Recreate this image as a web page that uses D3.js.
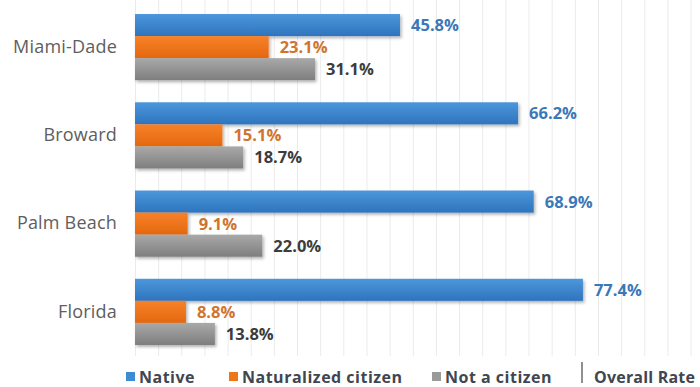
<!DOCTYPE html>
<html>
<head>
<meta charset="utf-8">
<script src="https://cdn.jsdelivr.net/npm/d3@7"></script>
<style>
  html, body { margin: 0; padding: 0; background: #ffffff; }
  svg { display: block; }
</style>
</head>
<body>
<svg id="chart" width="700" height="387"></svg>
<script>
// Share of residents by citizenship status, per area (percent)
const areas = ["Miami-Dade", "Broward", "Palm Beach", "Florida"];
const seriesNames = ["Native", "Naturalized citizen", "Not a citizen"];
const nativeRate = [45.8, 66.2, 68.9, 77.4];
const naturalizedRate = [23.1, 15.1, 9.1, 8.8];
const nonCitizenRate = [31.1, 18.7, 22.0, 13.8];
const gridTicks = d3.range(0, 101, 4);
const extraLegendLabel = "Overall Rate";

const seriesValues = [nativeRate, naturalizedRate, nonCitizenRate];
const rows = areas.map((area, i) => ({
  area,
  values: seriesNames.map((name, s) => ({ name, s, v: seriesValues[s][i] }))
}));

const svg = d3.select("#chart");

const plot = { left: 135, right: 713.7, top: 3, bottom: 356 };

const x = d3.scaleLinear().domain([0, 100]).range([plot.left, plot.right]);
const y = d3.scaleBand().domain(areas).range([plot.top, plot.bottom])
  .paddingInner(0.25).paddingOuter(0.125);
const ySub = d3.scaleBand().domain(seriesNames).range([0, y.bandwidth()]);

const palette = {
  top:    ["#4c97dc", "#f7812a", "#a9a9a9"],
  bottom: ["#2e74bd", "#e4680e", "#7e7e7e"],
  label:  ["#3a78b8", "#d07430", "#3c3c3c"],
  legend: ["#3d8bd3", "#ef7519", "#9a9a9a"]
};

const defs = svg.append("defs");
seriesNames.forEach((name, s) => {
  const g = defs.append("linearGradient")
    .attr("id", "grad" + s)
    .attr("x1", 0).attr("y1", 0).attr("x2", 0).attr("y2", 1);
  g.append("stop").attr("offset", "0%").attr("stop-color", palette.top[s]);
  g.append("stop").attr("offset", "100%").attr("stop-color", palette.bottom[s]);
});
const shadow = defs.append("filter").attr("id", "barShadow")
  .attr("x", "-5%").attr("y", "-20%").attr("width", "115%").attr("height", "160%");
shadow.append("feDropShadow")
  .attr("dx", 1.5).attr("dy", 2).attr("stdDeviation", 1.6)
  .attr("flood-color", "#000").attr("flood-opacity", 0.3);

// vertical gridlines
svg.append("g").attr("class", "grid")
  .attr("transform", `translate(0,${plot.bottom})`)
  .call(d3.axisBottom(x).tickValues(gridTicks).tickSize(-(plot.bottom)).tickFormat(""))
  .call(g => g.select(".domain").remove())
  .call(g => g.selectAll(".tick line").attr("stroke", "#ebebeb").attr("stroke-width", 1));

// category labels
svg.append("g").attr("class", "y-axis")
  .attr("transform", `translate(${plot.left - 18},0)`)
  .call(d3.axisLeft(y).tickSize(0).tickPadding(0))
  .call(g => g.select(".domain").remove())
  .call(g => g.selectAll("text")
    .attr("font-family", "'Open Sans', sans-serif")
    .attr("font-size", 18)
    .attr("letter-spacing", 0.2)
    .attr("fill", "#5e5e5e"));

// bars
const groups = svg.append("g").selectAll("g.area")
  .data(rows).join("g")
  .attr("class", "area")
  .attr("transform", d => `translate(0,${y(d.area)})`);

groups.selectAll("rect")
  .data(d => d.values).join("rect")
  .attr("x", x(0))
  .attr("y", d => ySub(d.name))
  .attr("width", d => x(d.v) - x(0))
  .attr("height", ySub.bandwidth())
  .attr("fill", d => `url(#grad${d.s})`)
  .attr("filter", "url(#barShadow)");

groups.selectAll("text.value")
  .data(d => d.values).join("text")
  .attr("class", "value")
  .attr("x", d => x(d.v) + 11)
  .attr("y", d => ySub(d.name) + ySub.bandwidth() / 2)
  .attr("dy", "0.36em")
  .attr("font-family", "'Open Sans', sans-serif")
  .attr("font-weight", 700)
  .attr("font-size", 16.5)
  .attr("fill", d => palette.label[d.s])
  .text(d => d.v.toFixed(1) + "%");

// legend
const legend = svg.append("g").attr("class", "legend")
  .attr("font-family", "'Open Sans', sans-serif")
  .attr("font-weight", 700)
  .attr("font-size", 16)
  .attr("letter-spacing", 0.5)
  .attr("fill", "#3f4650");
const legendX = [126, 229, 432];
seriesNames.forEach((name, s) => {
  legend.append("rect")
    .attr("x", legendX[s]).attr("y", 372)
    .attr("width", 9).attr("height", 9)
    .attr("fill", palette.legend[s]);
  legend.append("text")
    .attr("x", legendX[s] + 13).attr("y", 382.5)
    .text(name);
});
legend.append("line")
  .attr("x1", 582).attr("x2", 582)
  .attr("y1", 362).attr("y2", 383)
  .attr("stroke", "#555").attr("stroke-width", 1.3);
legend.append("text")
  .attr("x", 594).attr("y", 382.5)
  .attr("letter-spacing", 0.2)
  .text(extraLegendLabel);
</script>
</body>
</html>
